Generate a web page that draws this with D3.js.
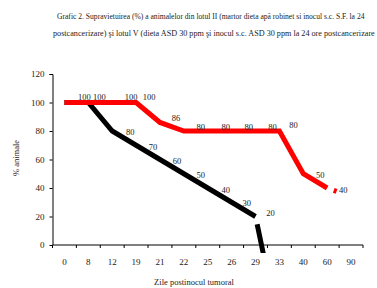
<!DOCTYPE html>
<html>
<head>
<meta charset="utf-8">
<script src="https://cdn.jsdelivr.net/npm/d3@7"></script>
<style>
  body { margin: 0; background: #fff; }
  text { font-family: "Liberation Serif", "Times New Roman", serif; fill: #222; }
</style>
</head>
<body>
<div id="chart"></div>
<script>
// categories = days after tumour inoculation
var days = ["0", "8", "12", "19", "21", "22", "25", "26", "29", "33", "40", "60", "90"];
var yTicks = [0, 20, 40, 60, 80, 100, 120];

// lot II (black) and lot IV (red), % surviving animals
var lotII = [100, 100, 80, 70, 60, 50, 40, 30, 20];
var lotIV = [100, 100, 100, 100, 86, 80, 80, 80, 80, 80, 50, 40];
// broken tail segments as they show in the original picture
var lotIIDrop = [20, -60];
var lotIVTail = [40, 34];

// label nudges (px) so labels sit where excel put them
var lotIILabelDx = [0, 0, 18, 17, 17, 17, 18, 15, 15];
var lotIILabelDy = [0, 0, 1, 2, 2, 1, 2, 1, -3];
var lotIVLabelDx = [20, 11, 19, 13, 16, 17, 18, 17, 17, 14, 17, 16];
var lotIVLabelDy = [-5, -5, -5, -5, -4, -4, -4, -4, -4, -6, 1, 2];

var titleLines = [
  "Grafic 2. Supravietuirea (%) a animalelor din lotul II (martor dieta apă robinet si inocul s.c. S.F. la 24",
  "postcancerizare) şi lotul V (dieta ASD 30 ppm şi inocul s.c. ASD 30 ppm la 24 ore postcancerizare"
];

var width = 377, height = 288;
var svg = d3.select("#chart").append("svg")
  .attr("width", width)
  .attr("height", height);

var xScale = d3.scaleBand()
  .domain(days)
  .range([52.5, 363]);
var yScale = d3.scaleLinear()
  .domain([0, 120])
  .range([245, 74]);

function cx(i) { return xScale(days[i]) + xScale.bandwidth() / 2; }

// title, squeezed horizontally to fit like the original
var titleBox = [[57, 19, 308], [53, 36, 322]];
titleLines.forEach((t, i) => {
  var g = svg.append("g");
  var txt = g.append("text")
    .style("font-size", "8.5px")
    .text(t);
  var w = txt.node().getComputedTextLength();
  g.attr("transform", "translate(" + titleBox[i][0] + "," + titleBox[i][1] + ") scale(" + (titleBox[i][2] / w) + ",1)");
});

// axes
var yAxis = d3.axisLeft(yScale).tickValues(yTicks).tickSize(3).tickPadding(5);
svg.append("g")
  .attr("class", "y-axis axis")
  .attr("transform", "translate(52.5,0)")
  .call(yAxis);

var xAxis = d3.axisBottom(xScale).tickSize(0).tickPadding(14);
var xg = svg.append("g")
  .attr("class", "x-axis axis")
  .attr("transform", "translate(0,245)")
  .call(xAxis);
xg.select(".domain").remove();
xg.append("line")
  .attr("x1", 52.5).attr("x2", 363)
  .attr("stroke", "#000");
// tick marks between categories
xg.selectAll(".sep")
  .data(d3.range(days.length + 1))
  .enter().append("line")
  .attr("class", "sep")
  .attr("x1", (d) => 52.5 + d * xScale.bandwidth())
  .attr("x2", (d) => 52.5 + d * xScale.bandwidth())
  .attr("y1", 0).attr("y2", 3)
  .attr("stroke", "#000");

svg.selectAll(".axis text").style("font-size", "9px").attr("fill", "#222");
svg.selectAll(".y-axis path, .y-axis line").attr("stroke", "#000");
svg.select(".y-axis .domain").attr("d", "M-3,74.5H0.5V245");

svg.append("text")
  .attr("transform", "rotate(-90)")
  .attr("x", -158).attr("y", 19)
  .style("text-anchor", "middle")
  .style("font-size", "8.5px")
  .text("% animale");

svg.append("text")
  .attr("x", 194).attr("y", 285)
  .style("text-anchor", "middle")
  .style("font-size", "8.5px")
  .text("Zile postinocul tumoral");

svg.append("clipPath").attr("id", "plot-clip")
  .append("rect").attr("x", 40).attr("y", 60).attr("width", 330).attr("height", 193);

var line = d3.line()
  .x((d) => cx(d.i))
  .y((d) => yScale(d.v));

var plot = svg.append("g").attr("clip-path", "url(#plot-clip)");

function drawSeries(values, start, color, dash) {
  var pts = values.map((v, k) => ({ i: start + k, v: v }));
  plot.append("path")
    .datum(pts)
    .attr("fill", "none")
    .attr("stroke", color)
    .attr("stroke-width", 5)
    .attr("stroke-linejoin", "miter")
    .attr("stroke-dasharray", dash)
    .attr("d", line);
}

drawSeries(lotIIDrop, 8, "#000", "0 8 1000");
drawSeries(lotII, 0, "#000", null);
drawSeries(lotIVTail, 11, "#ff0000", "0 7 3 1000");
drawSeries(lotIV, 0, "#ff0000", null);

// data labels
function drawLabels(values, dx, dy, from) {
  values.forEach((v, i) => {
    if (i < from) return;
    svg.append("text")
      .attr("x", cx(i) + dx[i])
      .attr("y", yScale(v) + dy[i])
      .attr("dy", "0.35em")
      .style("text-anchor", "middle")
      .style("font-size", "8.5px")
      .text(v);
  });
}
drawLabels(lotII, lotIILabelDx, lotIILabelDy, 2);
drawLabels(lotIV, lotIVLabelDx, lotIVLabelDy, 0);
</script>
</body>
</html>
